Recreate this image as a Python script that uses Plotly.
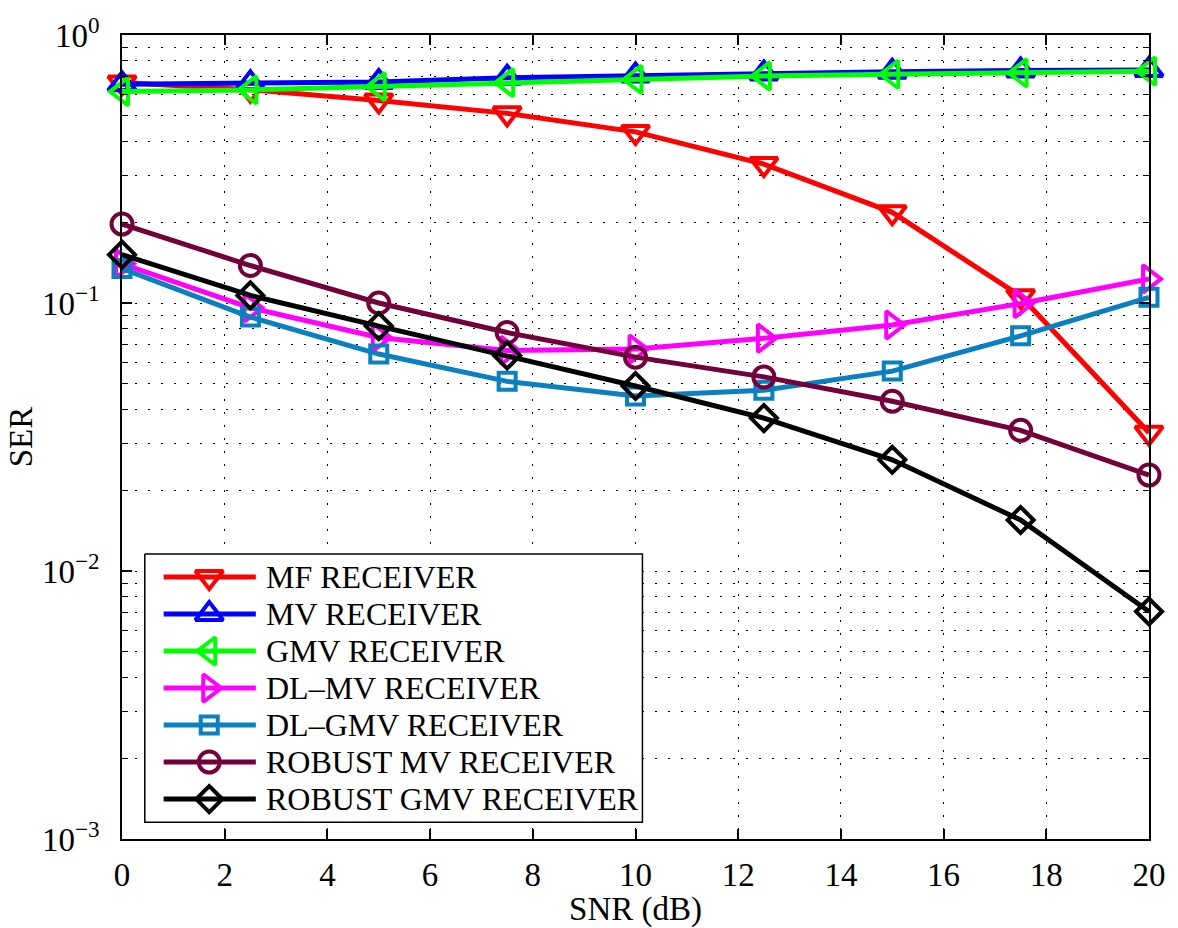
import plotly.graph_objects as go

# SNR sweep (dB)
snr = [0, 2.5, 5, 7.5, 10, 12.5, 15, 17.5, 20]

# Symbol error rate per receiver
mf_ser = [0.665, 0.625, 0.57, 0.51, 0.435, 0.33, 0.218, 0.106, 0.0328]
mv_ser = [0.655, 0.66, 0.668, 0.693, 0.706, 0.718, 0.729, 0.737, 0.741]
gmv_ser = [0.615, 0.624, 0.642, 0.664, 0.683, 0.703, 0.713, 0.722, 0.733]
dl_mv_ser = [0.140, 0.096, 0.0744, 0.0665, 0.0673, 0.0739, 0.0828, 0.0995, 0.123]
dl_gmv_ser = [0.1345, 0.0886, 0.0645, 0.051, 0.045, 0.0473, 0.0557, 0.0754, 0.105]
robust_mv_ser = [0.197, 0.138, 0.1, 0.0776, 0.0628, 0.053, 0.043, 0.0335, 0.0228]
robust_gmv_ser = [0.1515, 0.1067, 0.082, 0.0637, 0.049, 0.0372, 0.026, 0.0155, 0.00706]

names = ["MF RECEIVER", "MV RECEIVER", "GMV RECEIVER", "DL\u2013MV RECEIVER",
         "DL\u2013GMV RECEIVER", "ROBUST MV RECEIVER", "ROBUST GMV RECEIVER"]
values = [mf_ser, mv_ser, gmv_ser, dl_mv_ser, dl_gmv_ser, robust_mv_ser, robust_gmv_ser]
colors = ["#ff0000", "#0000ff", "#00ff00", "#ff00ff", "#0a80c0", "#73003a", "#000000"]
symbols = ["triangle-down-open", "triangle-up-open", "triangle-left-open",
           "triangle-right-open", "square-open", "circle-open", "diamond-open"]
sizes = [24, 24, 24, 24, 17, 21, 20]

x_ticks = list(range(0, 21, 2))
y_ticks = [1e-3, 1e-2, 1e-1, 1]
y_ticktext = ["10<sup>\u22123</sup>", "10<sup>\u22122</sup>", "10<sup>\u22121</sup>", "10<sup>0</sup>"]
y_minor = [m * 10.0 ** e for e in (-3, -2, -1) for m in range(2, 10)]

FONT = "Liberation Serif"
W, H = 1178, 928
ML, MR, MT, MB = 122, 20, 33, 80
LINE_W, MARK_W = 5, 4
AX_FONT = 33

fig = go.Figure()
for name, vals, col, sym, sz in zip(names, values, colors, symbols, sizes):
    fig.add_trace(go.Scatter(
        x=snr, y=vals, mode="lines+markers", name=name, showlegend=False,
        line=dict(color=col, width=LINE_W),
        marker=dict(symbol=sym, size=sz, color=col, line=dict(color=col, width=MARK_W)),
        cliponaxis=False,
    ))

# Legend panel, drawn on an overlay axis spanning the plot area (0..1 both ways)
PX0, PX1, PY0, PY1 = ML, W - MR, MT, H - MB


def fx(px):
    return (px - PX0) / (PX1 - PX0)


def fy(py):
    return (PY1 - py) / (PY1 - PY0)


box_l, box_r, box_t, box_b = 145, 647, 559, 831
row0, row_step = 582.5, 37.5
samp_l, samp_r, samp_m, text_x = 164, 257, 210, 265

fig.add_trace(go.Scatter(
    x=[fx(box_l), fx(box_r), fx(box_r), fx(box_l), fx(box_l)],
    y=[fy(box_t), fy(box_t), fy(box_b), fy(box_b), fy(box_t)],
    mode="lines", fill="toself", fillcolor="white",
    line=dict(color="black", width=1.5), showlegend=False, hoverinfo="skip",
    xaxis="x2", yaxis="y2", cliponaxis=False,
))
annotations = []
for i, (name, col, sym, sz) in enumerate(zip(names, colors, symbols, sizes)):
    yc = fy(row0 + i * row_step)
    fig.add_trace(go.Scatter(
        x=[fx(samp_l), fx(samp_r)], y=[yc, yc], mode="lines",
        line=dict(color=col, width=LINE_W), showlegend=False, hoverinfo="skip",
        xaxis="x2", yaxis="y2", cliponaxis=False,
    ))
    fig.add_trace(go.Scatter(
        x=[fx(samp_m)], y=[yc], mode="markers",
        marker=dict(symbol=sym, size=sz, color=col, line=dict(color=col, width=MARK_W)),
        showlegend=False, hoverinfo="skip", xaxis="x2", yaxis="y2", cliponaxis=False,
    ))
    annotations.append(dict(
        x=fx(text_x), y=yc, xref="paper", yref="paper", text=name, showarrow=False,
        xanchor="left", yanchor="middle", font=dict(family=FONT, size=32, color="black"),
    ))

grid_dash = "2px,11px"
fig.update_layout(
    width=W, height=H,
    margin=dict(l=ML, r=MR, t=MT, b=MB),
    paper_bgcolor="white", plot_bgcolor="white",
    font=dict(family=FONT, size=AX_FONT, color="black"),
    annotations=annotations,
    xaxis=dict(
        range=[0, 20], tickmode="array", tickvals=x_ticks,
        ticks="inside", ticklen=10, tickwidth=1.5, tickcolor="black",
        showline=True, linecolor="black", linewidth=1.5, mirror="ticks",
        showgrid=True, gridcolor="black", gridwidth=1.2, griddash=grid_dash,
        zeroline=False, tickfont=dict(family=FONT, size=AX_FONT),
        ticklabelstandoff=6,
        title=dict(text="SNR (dB)", font=dict(family=FONT, size=AX_FONT), standoff=0),
    ),
    yaxis=dict(
        type="log", range=[-3, 0], tickmode="array", tickvals=y_ticks, ticktext=y_ticktext,
        ticks="inside", ticklen=10, tickwidth=1.5, tickcolor="black",
        showline=True, linecolor="black", linewidth=1.5, mirror="ticks",
        showgrid=True, gridcolor="black", gridwidth=1.2, griddash=grid_dash,
        zeroline=False, tickfont=dict(family=FONT, size=AX_FONT),
        ticklabelstandoff=14,
        minor=dict(tickmode="array", tickvals=y_minor, ticks="inside", ticklen=6,
                   tickcolor="black", tickwidth=1.2, showgrid=True, gridcolor="black",
                   gridwidth=1.2, griddash=grid_dash),
        title=dict(text="SER", font=dict(family=FONT, size=AX_FONT), standoff=0),
    ),
    xaxis2=dict(overlaying="x", range=[0, 1], visible=False, fixedrange=True),
    yaxis2=dict(overlaying="y", range=[0, 1], visible=False, fixedrange=True),
)

fig.write_html("out.html")
